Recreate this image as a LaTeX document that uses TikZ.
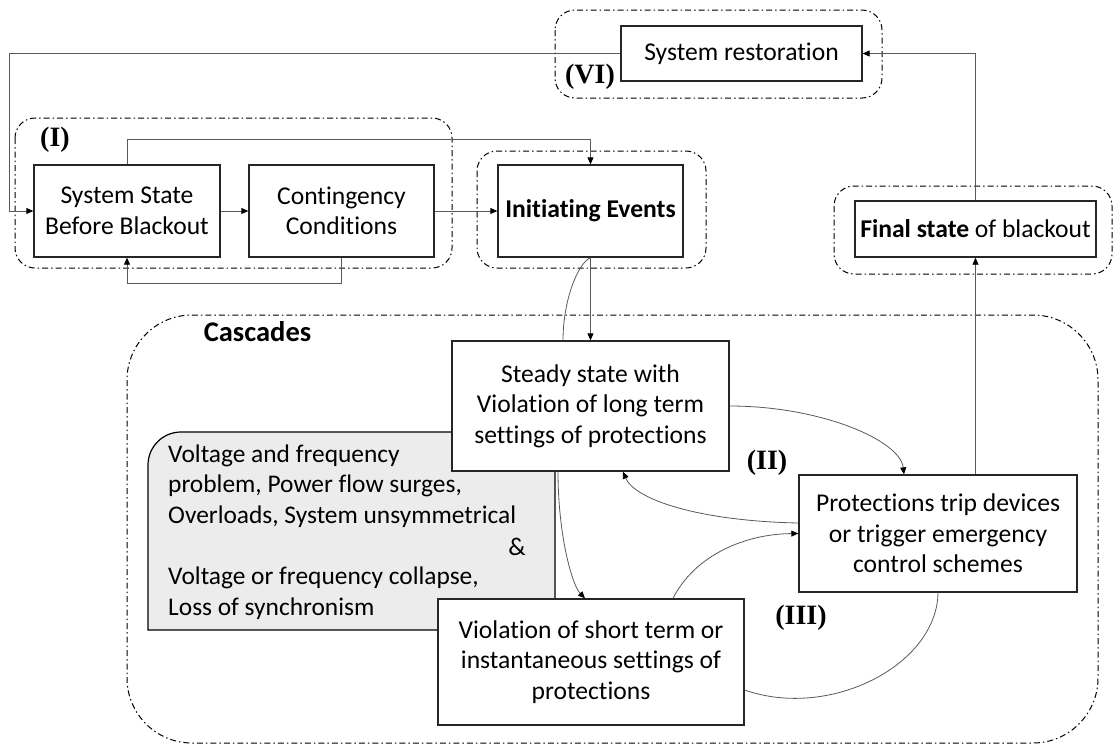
\documentclass[tikz,border=0pt]{standalone}
\usepackage{fontspec}
\setmainfont{Carlito}[Ligatures={NoCommon,NoContextual}]
\newfontfamily\tnr{Liberation Serif}
\usetikzlibrary{arrows.meta,calc}
\definecolor{gfill}{HTML}{ECECEC}
\begin{document}
\begin{tikzpicture}[x=1pt,y=-1pt,
  txt/.style={font=\fontsize{25.6}{30.5}\selectfont},
  box/.style={txt,draw=black!85,line width=1.3pt,fill=white,inner sep=0pt,align=center},
  grp/.style={draw=black,line width=1pt,dash pattern=on 6pt off 3pt on 1.5pt off 3pt,rounded corners=20pt},
  conn/.style={draw=black!65,line width=0.8pt},
  arr/.style={conn,-{Triangle[length=7pt,width=6pt,color=black]}},
  lbl/.style={font=\tnr\bfseries\fontsize{28}{30}\selectfont,inner sep=0pt}]
\useasboundingbox (0,0) rectangle (1113,745);
% groups
\draw[grp] (15,118) rectangle (452,268);
\draw[grp] (555,10) rectangle (882,98);
\draw[grp] (477,151) rectangle (706,268);
\draw[grp] (834,186) rectangle (1112,274);
\draw[grp,rounded corners=65pt] (127,315) rectangle (1098,743);
% gray box
\draw[fill=gfill,line width=1.2pt] (555,630) -- (148,630) [rounded corners=33pt] -- (148,432) [sharp corners] -- (555,432) -- cycle;
\node[txt,font=\fontsize{25.4}{30.6}\selectfont,align=left,inner sep=0pt,anchor=west] (gt1) at (168,486)
  {Voltage and frequency\\problem, Power flow surges,\\Overloads, System unsymmetrical};
\node[txt,font=\fontsize{25.4}{30.6}\selectfont,inner sep=0pt,anchor=east] (amp) at (526,547) {\&};
\node[txt,font=\fontsize{25.4}{30.6}\selectfont,align=left,inner sep=0pt,anchor=west] (gt2) at (168,593)
  {Voltage or frequency collapse,\\Loss of synchronism};
% boxes
\node[box,minimum width=186pt,minimum height=92pt] (ss) at (127,211) {System State\\Before Blackout};
\node[box,minimum width=185pt,minimum height=92pt] (cc) at (341.5,211) {Contingency\\Conditions};
\node[box,minimum width=185pt,minimum height=92pt] (ie) at (590.5,211) {\textbf{Initiating Events}};
\node[box,minimum width=241pt,minimum height=55pt] (sr) at (741.5,53.5) {System restoration};
\node[box,minimum width=241pt,minimum height=56pt] (fs) at (975.5,229) {\textbf{Final state} of blackout};
\node[box,minimum width=277pt,minimum height=130pt] (st) at (590.5,406) {Steady state with\\Violation of long term\\settings of protections};
\node[box,minimum width=278pt,minimum height=117pt] (pr) at (938,533.5) {Protections trip devices\\or trigger emergency\\control schemes};
\node[box,minimum width=306pt,minimum height=126pt] (sh) at (591,662) {Violation of short term or\\instantaneous settings of\\protections};
% labels
\node[lbl] (l1) at (55,140) {(I)};
\node[lbl] (l6) at (590,77) {(VI)};
\node[lbl] (l2) at (767,463) {(II)};
\node[lbl] (l3) at (801,618) {(III)};
\node[font=\bfseries\fontsize{28.5}{30}\selectfont,inner sep=0pt] (cas) at (257.5,332) {Cascades};
% connectors
\coordinate (lc) at (9,53.5);
\draw[arr] (sr.west) -- (lc) |- (ss.west);
\draw[arr] (ss.east) -- (cc.west);
\draw[arr] (cc.east) -- (ie.west);
\draw[arr] (ss.north) -- ++(0,-25) -| (ie.north);
\draw[arr] (cc.south) -- ++(0,26) -| (ss.south);
\draw[arr] (ie.south) -- (st.north);
\draw[conn] (ie.south) .. controls (578,263) and (563,300) .. ($(st.north)+(-27.5,0)$);
\draw[arr] ($(st.south)+(-32.5,0)$) .. controls (558,535) and (572,585) .. ($(sh.north)+(-6,0)$);
\draw[arr] (st.east) .. controls (820,406) and (900,440) .. ($(pr.north)+(-34,0)$);
\draw[arr] ($(pr.west)+(0,-10.5)$) .. controls (700,521) and (635,500) .. ($(st.south)+(32.5,0)$);
\draw[arr] ($(sh.north)+(82,0)$) .. controls (695,555) and (745,534) .. (pr.west);
\draw[conn] (pr.south) .. controls (937,665) and (830,720) .. ($(sh.east)+(0,28)$);
\draw[arr] (fs.south |- pr.north) -- (fs.south);
\draw[arr] (fs.north) |- (sr.east);
\end{tikzpicture}
\end{document}
